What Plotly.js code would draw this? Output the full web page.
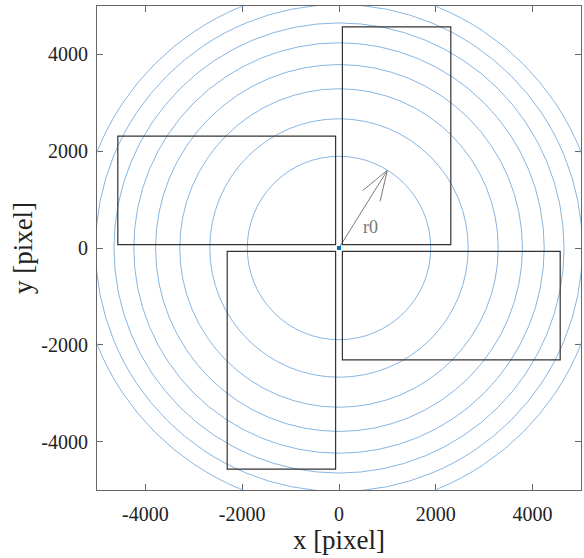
<!DOCTYPE html>
<html>
<head>
<meta charset="utf-8">
<script src="https://cdn.plot.ly/plotly-3.0.1.min.js"></script>
<style>html,body{margin:0;padding:0;background:#fff;}#chart{width:584px;height:558px;}</style>
</head>
<body>
<div id="chart"></div>
<script>
// Circle radii (pixel units)
var circleRadii = [1895, 2670, 3290, 3790, 4240, 4650, 5030, 5380];
// Rectangles: [x0, x1, y0, y1]
var rectX0 = [70, -4570, -2310, 70];
var rectX1 = [2310, -70, -70, 4570];
var rectY0 = [70, 70, -4570, -2310];
var rectY1 = [4570, 2310, -70, -70];
// Arrow r0
var arrowTip = [1000, 1607];
var arrowLabel = 'r0';
var labelPos = [660, 424];
var xTicks = [-4000, -2000, 0, 2000, 4000];
var xTickText = ['-4000', '-2000', '0', '2000', '4000'];
var yTicks = [-4000, -2000, 0, 2000, 4000];
var yTickText = ['-4000', '-2000', '0', '2000', '4000'];

var shapes = [];
circleRadii.forEach(function(r){
  shapes.push({type:'circle', xref:'x', yref:'y', x0:-r, x1:r, y0:-r, y1:r,
    line:{color:'rgb(135,182,226)', width:1}});
});
for (var i=0;i<rectX0.length;i++){
  shapes.push({type:'rect', xref:'x', yref:'y', x0:rectX0[i], x1:rectX1[i], y0:rectY0[i], y1:rectY1[i],
    line:{color:'#333', width:1.2}});
}

// arrow head geometry
var ang = Math.atan2(arrowTip[1], arrowTip[0]);
var back = ang + Math.PI;
var hl = 660, ha = 18.6*Math.PI/180;
var h1 = [arrowTip[0]+hl*Math.cos(back-ha), arrowTip[1]+hl*Math.sin(back-ha)];
var h2 = [arrowTip[0]+hl*Math.cos(back+ha), arrowTip[1]+hl*Math.sin(back+ha)];

var traces = [
  {x:[0, arrowTip[0], null, h1[0], arrowTip[0], h2[0]],
   y:[0, arrowTip[1], null, h1[1], arrowTip[1], h2[1]],
   mode:'lines', line:{color:'#7a7a7a', width:1}, hoverinfo:'skip', showlegend:false},
  {x:[0], y:[0], mode:'markers', marker:{color:'#0072BD', size:4, symbol:'square'}, showlegend:false}
];

var font = 'Liberation Serif';
function axis(ticks, text, title, standoff, tstand){
  return {
    range:[-5000,5000], showgrid:false, zeroline:false, showline:true, mirror:'ticks',
    linecolor:'#666', linewidth:1, ticks:'inside', ticklen:6, tickcolor:'#666',
    tickvals:ticks, ticktext:text, tickmode:'array',
    tickfont:{family:font, size:20, color:'#222'}, ticklabelstandoff:tstand,
    title:{text:title, font:{family:font, size:27, color:'#222'}, standoff:standoff},
    fixedrange:true
  };
}
var layout = {
  width:584, height:558,
  margin:{l:97, r:3, t:6, b:68},
  paper_bgcolor:'#fff', plot_bgcolor:'#fff',
  font:{family:font},
  xaxis: axis(xTicks, xTickText, 'x [pixel]', 4, 6),
  yaxis: axis(yTicks, yTickText, 'y [pixel]', 0, 4),
  shapes: shapes,
  annotations:[{x:labelPos[0], y:labelPos[1], xref:'x', yref:'y', text:arrowLabel, showarrow:false,
    font:{family:font, size:18, color:'#777'}}]
};
Plotly.newPlot('chart', traces, layout, {displayModeBar:false, staticPlot:true});
</script>
</body>
</html>
